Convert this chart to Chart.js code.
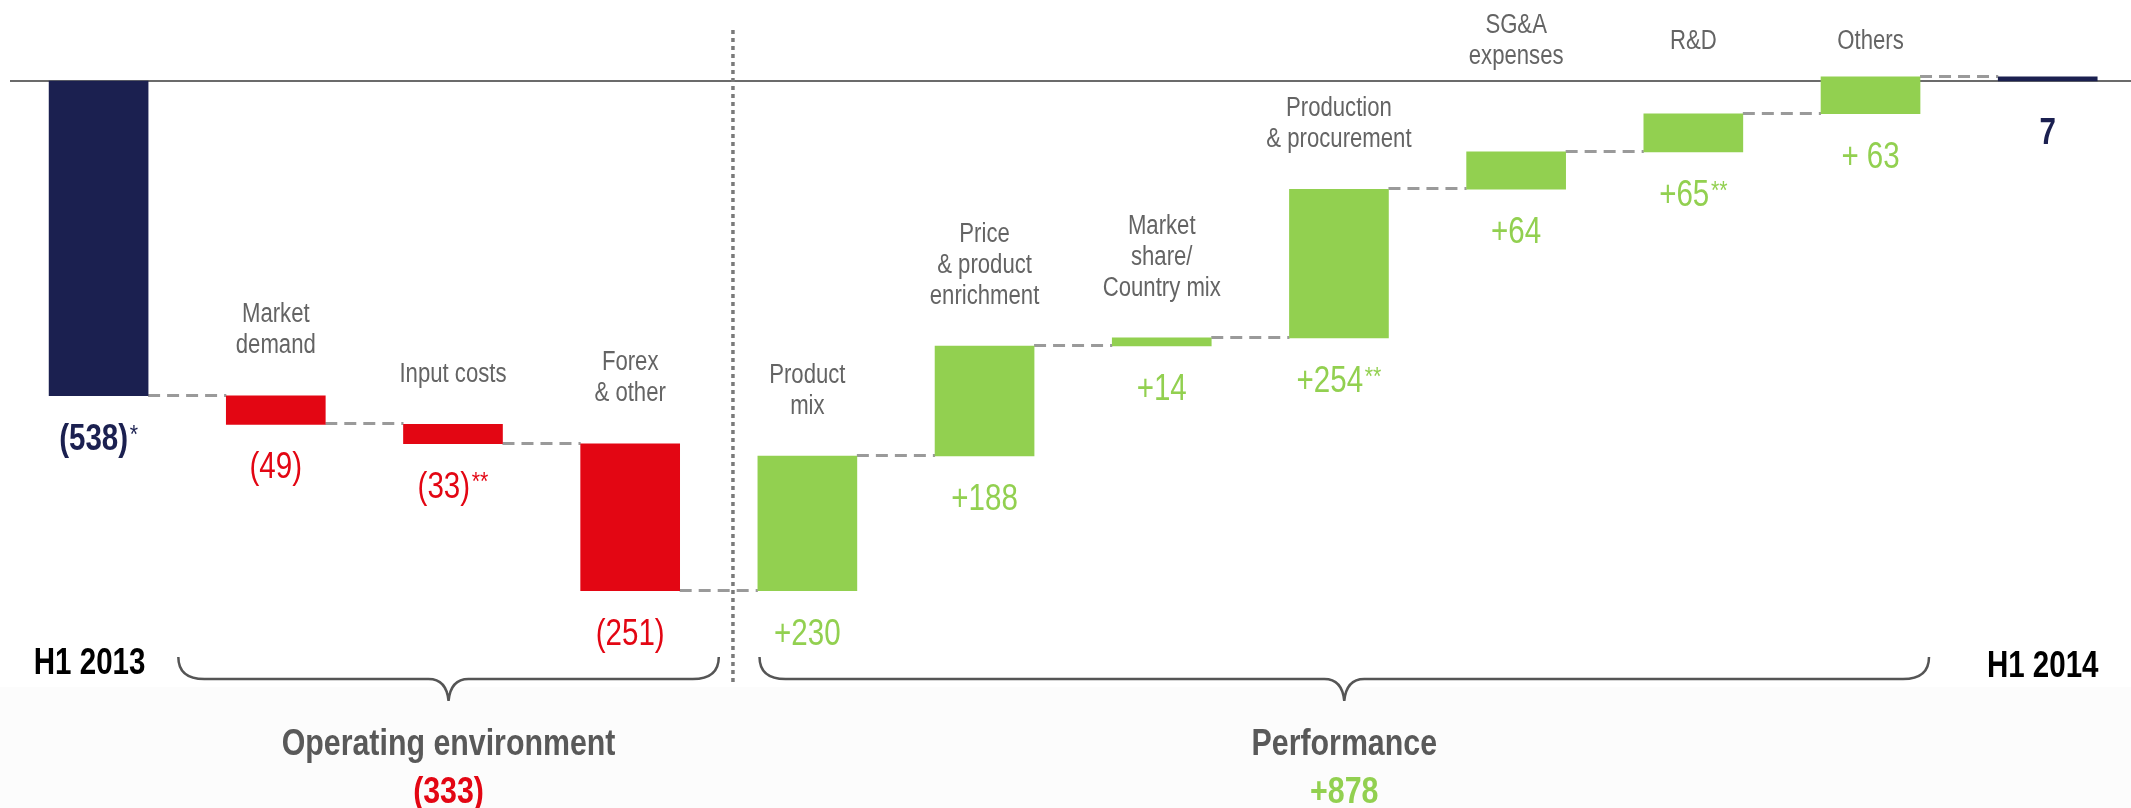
<!DOCTYPE html>
<html>
<head>
<meta charset="utf-8">
<title>Operating result bridge H1 2013 – H1 2014</title>
<script src="https://cdn.jsdelivr.net/npm/chart.js@4.4.1/dist/chart.umd.min.js"></script>
<style>
  html, body { margin: 0; padding: 0; background: #ffffff; overflow: hidden; }
  canvas { display: block; }
</style>
</head>
<body>
<canvas id="bridge-chart" width="2131" height="808"></canvas>
<script>
// bridge steps, left to right; first and last columns are the period totals
let categories = ['H1 2013', 'Market demand', 'Input costs', 'Forex & other', 'Product mix',
  'Price & product enrichment', 'Market share/ Country mix', 'Production & procurement',
  'SG&A expenses', 'R&D', 'Others', 'H1 2014'];
let categoryLines = [[], ['Market', 'demand'], ['Input costs'], ['Forex', '& other'], ['Product', 'mix'],
  ['Price', '& product', 'enrichment'], ['Market', 'share/', 'Country mix'], ['Production', '& procurement'],
  ['SG&A', 'expenses'], ['R&D'], ['Others'], []];
let startValue = -538;
let changes = [-49, -33, -251, 230, 188, 14, 254, 64, 65, 63];
let endValue = 7;
let valueLabels = ['(538)', '(49)', '(33)', '(251)', '+230', '+188', '+14', '+254', '+64', '+65', '+ 63', '7'];
let footnoteMarks = ['*', '', '**', '', '', '', '', '**', '', '**', '', ''];
let groupNames = ['Operating environment', 'Performance'];
let groupRanges = [[1, 3], [4, 10]];

const NAVY = '#1b2050';
const RED = '#e30613';
const GREEN = '#92d050';
const GREY_TEXT = '#646464';
const FONT = "'Liberation Sans', Arial, sans-serif";
const NARROW = 0.82;   // horizontal squeeze for a condensed look

// floating bars [from, to] and the running level after each column
let bars = [];
let levels = [];
let level = startValue;
bars.push({ x: 0, y: [0, startValue] });
levels.push(level);
changes.forEach(function(c, i) {
  bars.push({ x: i + 1, y: [level, level + c] });
  level += c;
  levels.push(level);
});
bars.push({ x: categories.length - 1, y: [0, endValue] });
levels.push(endValue);

let barColors = bars.map(function(b, i) {
  if (i === 0 || i === bars.length - 1) return NAVY;
  return b.y[1] < b.y[0] ? RED : GREEN;
});

let groupTotals = groupRanges.map(function(r) {
  let sum = 0;
  for (let i = r[0]; i <= r[1]; i++) sum += changes[i - 1];
  return sum;
});

function formatTotal(v) {
  return v < 0 ? '(' + (-v) + ')' : '+' + v;
}

// text centred on x, with its cap height centred on y; optional superscript marks
function drawText(ctx, text, mark, x, y, size, weight, color) {
  ctx.save();
  ctx.translate(x, y + size * 0.36);
  ctx.scale(NARROW, 1);
  ctx.font = weight + ' ' + size + 'px ' + FONT;
  let w = ctx.measureText(text).width;
  let markSize = Math.round(size * 0.72);
  let mw = 0;
  if (mark) {
    ctx.font = 'normal ' + markSize + 'px ' + FONT;
    mw = ctx.measureText(mark).width + 2;
  }
  let left = -(w + mw) / 2;
  ctx.fillStyle = color;
  ctx.textAlign = 'left';
  ctx.textBaseline = 'alphabetic';
  ctx.font = weight + ' ' + size + 'px ' + FONT;
  ctx.fillText(text, left, 0);
  if (mark) {
    ctx.font = 'normal ' + markSize + 'px ' + FONT;
    ctx.fillText(mark, left + w + 2, -size * 0.2);
  }
  ctx.restore();
}

function drawBrace(ctx, x1, x2, top, mid, tip) {
  let r = 20;
  let cx = (x1 + x2) / 2;
  ctx.beginPath();
  ctx.moveTo(x1, top);
  ctx.quadraticCurveTo(x1, mid, x1 + r + 6, mid);
  ctx.lineTo(cx - r, mid);
  ctx.quadraticCurveTo(cx - 2, mid, cx, tip);
  ctx.quadraticCurveTo(cx + 2, mid, cx + r, mid);
  ctx.lineTo(x2 - r - 6, mid);
  ctx.quadraticCurveTo(x2, mid, x2, top);
  ctx.stroke();
}

let bridgeDecor = {
  id: 'bridgeDecor',
  beforeDatasetsDraw: function(chart) {
    let ctx = chart.ctx;
    let xs = chart.scales.x;
    let ys = chart.scales.y;
    let meta = chart.getDatasetMeta(0);
    let zeroY = ys.getPixelForValue(0);
    ctx.save();

    // faint band behind the group captions
    ctx.fillStyle = '#fcfcfc';
    ctx.fillRect(0, 687, chart.width, chart.height - 687);

    // zero line
    ctx.strokeStyle = '#6b6b6b';
    ctx.lineWidth = 2;
    ctx.beginPath();
    ctx.moveTo(10, zeroY);
    ctx.lineTo(chart.width, zeroY);
    ctx.stroke();

    // dashed connectors between consecutive columns
    ctx.strokeStyle = '#9a9a9a';
    ctx.lineWidth = 3;
    ctx.setLineDash([12, 7]);
    for (let i = 0; i < meta.data.length - 1; i++) {
      let a = meta.data[i];
      let b = meta.data[i + 1];
      let y = Math.round(ys.getPixelForValue(levels[i])) - 0.5;
      ctx.beginPath();
      ctx.moveTo(a.x + a.width / 2, y);
      ctx.lineTo(b.x - b.width / 2, y);
      ctx.stroke();
    }

    // dotted divider between the two groups
    let divX = xs.getPixelForValue(3.58);
    ctx.strokeStyle = '#7a7a7a';
    ctx.lineWidth = 3.5;
    ctx.setLineDash([4, 4]);
    ctx.beginPath();
    ctx.moveTo(divX, 30);
    ctx.lineTo(divX, 686);
    ctx.stroke();
    ctx.restore();
  },
  afterDatasetsDraw: function(chart) {
    let ctx = chart.ctx;
    let xs = chart.scales.x;
    let ys = chart.scales.y;
    let meta = chart.getDatasetMeta(0);
    let zeroY = ys.getPixelForValue(0);
    let last = meta.data.length - 1;
    ctx.save();

    meta.data.forEach(function(bar, i) {
      let top = Math.min(bar.y, bar.base);
      let bottom = Math.max(bar.y, bar.base);
      let isTotal = i === 0 || i === last;

      // value under the column
      let color = isTotal ? NAVY : (changes[i - 1] < 0 ? RED : GREEN);
      drawText(ctx, valueLabels[i], footnoteMarks[i], bar.x, bottom + (i === last ? 50 : 41),
        isTotal ? 36 : 36, isTotal ? 'bold' : 'normal', color);

      // category caption above the column, lifted over the zero line when it would cross it
      let lines = categoryLines[i];
      if (lines.length) {
        let lh = 31;
        let lastY = top - 52;
        if (lastY - (lines.length - 1) * lh - 14 < zeroY + 10) {
          lastY = zeroY - 42 + (lines.length - 1) * lh / 2;
        }
        lines.forEach(function(line, k) {
          drawText(ctx, line, '', bar.x, lastY - (lines.length - 1 - k) * lh, 27, 'normal', GREY_TEXT);
        });
      }
    });

    // period names
    drawText(ctx, categories[0], '', meta.data[0].x - 9, 661, 36, 'bold', '#000000');
    drawText(ctx, categories[last], '', meta.data[last].x - 5, 664, 36, 'bold', '#000000');

    // group braces with captions
    let braceSpans = [[0.45, 3.5], [3.73, 10.33]];
    ctx.strokeStyle = '#555555';
    ctx.lineWidth = 2.5;
    braceSpans.forEach(function(span, g) {
      let x1 = xs.getPixelForValue(span[0]);
      let x2 = xs.getPixelForValue(span[1]);
      drawBrace(ctx, x1, x2, 657, 679, 701);
      let cx = (x1 + x2) / 2;
      drawText(ctx, groupNames[g], '', cx, 742, 37, 'bold', '#595959');
      drawText(ctx, formatTotal(groupTotals[g]), '', cx, 790, 37, 'bold', groupTotals[g] < 0 ? RED : GREEN);
    });
    ctx.restore();
  }
};

let ctx = document.getElementById('bridge-chart');
let bridgeChart = new Chart(ctx, {
  type: 'bar',
  data: {
    datasets: [{
      data: bars,
      backgroundColor: barColors,
      borderWidth: 0,
      barThickness: 99
    }]
  },
  options: {
    responsive: false,
    animation: false,
    devicePixelRatio: 1,
    layout: { padding: { left: 10, right: 0, top: 0, bottom: 0 } },
    plugins: { legend: { display: false }, tooltip: { enabled: false } },
    scales: {
      x: { type: 'linear', offset: false, min: -0.5, max: 11.47, display: false },
      y: { min: -1242.7, max: 138.5, display: false }
    }
  },
  plugins: [bridgeDecor]
});
</script>
</body>
</html>
